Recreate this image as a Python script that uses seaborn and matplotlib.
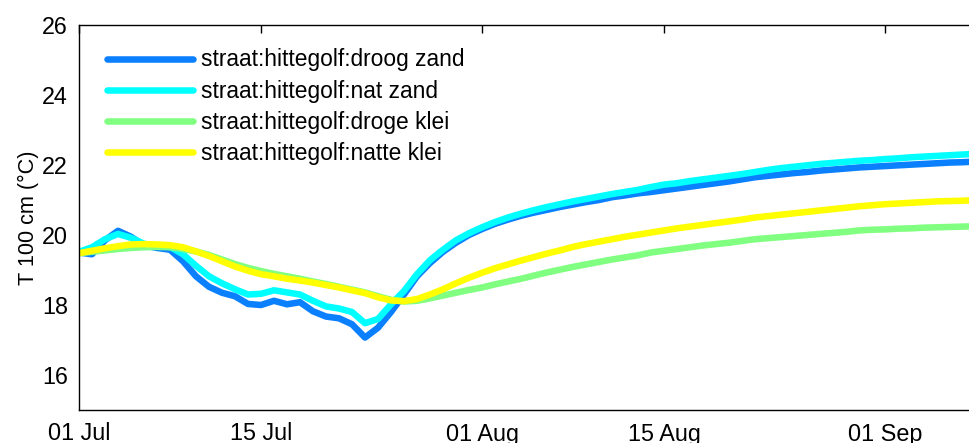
import numpy as np
import pandas as pd
import matplotlib
matplotlib.use("Agg")
import matplotlib.pyplot as plt
import matplotlib.dates as mdates
import seaborn as sns

# Daily soil temperature at 100 cm depth, starting 1 July
start_date = "2013-07-01"

droog_zand = [
    19.50, 19.45, 19.85, 20.12, 19.95, 19.70, 19.63, 19.58, 19.25, 18.82,
    18.52, 18.35, 18.25, 18.03, 18.00, 18.12, 18.02, 18.08, 17.82, 17.67,
    17.62, 17.45, 17.07, 17.35, 17.80, 18.30, 18.82, 19.20, 19.52, 19.78,
    20.00, 20.17, 20.32, 20.44, 20.55, 20.64, 20.72, 20.80, 20.87, 20.94,
    21.00, 21.08, 21.13, 21.19, 21.23, 21.28, 21.33, 21.38, 21.43, 21.48,
    21.53, 21.59, 21.65, 21.69, 21.73, 21.77, 21.80, 21.84, 21.87, 21.90,
    21.93, 21.95, 21.97, 21.99, 22.01, 22.03, 22.05, 22.07, 22.08, 22.10,
]

nat_zand = [
    19.52, 19.65, 19.88, 20.03, 19.92, 19.75, 19.68, 19.66, 19.45, 19.12,
    18.82, 18.62, 18.45, 18.30, 18.32, 18.42, 18.36, 18.30, 18.12, 17.96,
    17.90, 17.80, 17.48, 17.60, 18.02, 18.40, 18.88, 19.28, 19.58, 19.85,
    20.05, 20.22, 20.37, 20.50, 20.61, 20.71, 20.80, 20.88, 20.96, 21.03,
    21.10, 21.17, 21.23, 21.29, 21.37, 21.44, 21.48, 21.54, 21.59, 21.64,
    21.69, 21.74, 21.80, 21.86, 21.91, 21.95, 21.99, 22.03, 22.06, 22.09,
    22.12, 22.14, 22.17, 22.19, 22.22, 22.24, 22.26, 22.28, 22.30, 22.32,
]

droge_klei = [
    19.48, 19.52, 19.56, 19.60, 19.63, 19.65, 19.66, 19.65, 19.60, 19.53,
    19.43, 19.30, 19.17, 19.06, 18.97, 18.89, 18.82, 18.75, 18.67, 18.60,
    18.52, 18.44, 18.36, 18.25, 18.15, 18.10, 18.12, 18.19, 18.27, 18.35,
    18.43, 18.50, 18.59, 18.67, 18.75, 18.84, 18.93, 19.01, 19.09, 19.16,
    19.23, 19.30, 19.36, 19.42, 19.50, 19.55, 19.60, 19.65, 19.70, 19.74,
    19.78, 19.83, 19.88, 19.91, 19.94, 19.97, 20.00, 20.03, 20.06, 20.09,
    20.13, 20.15, 20.16, 20.18, 20.19, 20.21, 20.22, 20.23, 20.24, 20.25,
]

natte_klei = [
    19.48, 19.55, 19.62, 19.68, 19.73, 19.74, 19.73, 19.71, 19.65, 19.53,
    19.40, 19.25, 19.10, 18.98, 18.88, 18.82, 18.75, 18.70, 18.64, 18.57,
    18.50, 18.42, 18.34, 18.22, 18.13, 18.11, 18.17, 18.30, 18.45, 18.62,
    18.78, 18.92, 19.05, 19.16, 19.27, 19.37, 19.47, 19.56, 19.66, 19.74,
    19.81, 19.88, 19.95, 20.01, 20.07, 20.13, 20.19, 20.24, 20.29, 20.34,
    20.39, 20.44, 20.50, 20.54, 20.58, 20.62, 20.66, 20.70, 20.74, 20.78,
    20.82, 20.85, 20.88, 20.90, 20.92, 20.94, 20.96, 20.97, 20.98, 21.00,
]

series_names = [
    "straat:hittegolf:droog zand",
    "straat:hittegolf:nat zand",
    "straat:hittegolf:droge klei",
    "straat:hittegolf:natte klei",
]
series_values = [droog_zand, nat_zand, droge_klei, natte_klei]
series_colors = ["#0a80ff", "#00ffff", "#80ff80", "#ffff00"]

tick_dates = ["2013-07-01", "2013-07-15", "2013-08-01", "2013-08-15", "2013-09-01"]
y_ticks = [16, 18, 20, 22, 24, 26]

dates = pd.date_range(start_date, periods=len(droog_zand), freq="D")
frames = []
for name, vals in zip(series_names, series_values):
    frames.append(pd.DataFrame({"datum": dates, "T": vals, "serie": name}))
df = pd.concat(frames, ignore_index=True)

sns.set_style("white")
plt.rcParams["font.family"] = ["Liberation Sans", "DejaVu Sans"]
plt.rcParams["text.color"] = "black"

fig = plt.figure(figsize=(9.69, 4.43), dpi=100)
left, bottom, top = 79 / 969, 33 / 443, 25 / 443
right = 1.005
ax = fig.add_axes([left, bottom, right - left, 1 - top - bottom])

lw = 4.7
sns.lineplot(
    data=df, x="datum", y="T", hue="serie", hue_order=series_names,
    palette=dict(zip(series_names, series_colors)), estimator=None,
    linewidth=lw, ax=ax,
)

# 13 px per day on the time axis
days_span = (right * 969 - 79) / 13.0
x0 = pd.Timestamp(start_date)
ax.set_xlim(x0, x0 + pd.Timedelta(days=days_span))
ax.set_ylim(15, 26)
ax.set_yticks(y_ticks)
ax.set_xticks(pd.to_datetime(tick_dates))
ax.xaxis.set_major_formatter(mdates.DateFormatter("%d %b"))

ax.set_xlabel("")
ax.set_ylabel("T 100 cm (°C)", fontsize=15.6, labelpad=2, color="black")

for s in ax.spines.values():
    s.set_color("black")
    s.set_linewidth(1.0)

ax.tick_params(axis="both", direction="in", length=6, width=1, color="black",
               labelsize=16.8, labelcolor="black")
ax.tick_params(axis="x", top=True, pad=9)
ax.tick_params(axis="y", pad=8)

leg = ax.legend(
    loc="upper left", bbox_to_anchor=(0.0315, 0.939), frameon=False,
    fontsize=16.4, handlelength=3.75, handletextpad=0.35, labelspacing=0.36,
    borderaxespad=0, borderpad=0,
)
for line in leg.get_lines():
    line.set_linewidth(lw)
for t in leg.get_texts():
    t.set_color("black")

fig.savefig("out.png", dpi=100)
